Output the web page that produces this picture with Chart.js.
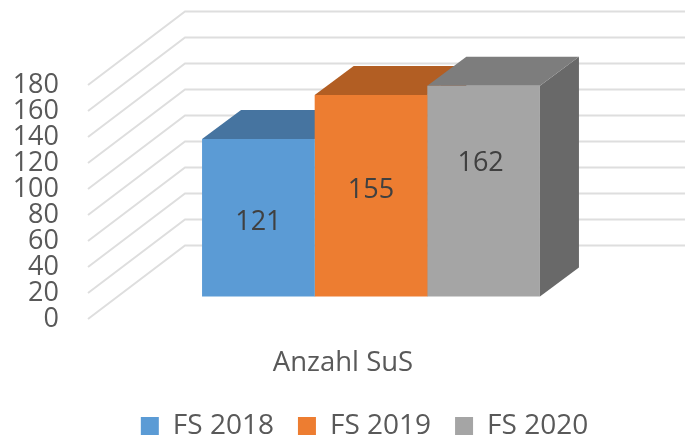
<!DOCTYPE html>
<html lang="de">
<head>
<meta charset="UTF-8">
<title>Anzahl SuS</title>
<script src="https://cdn.jsdelivr.net/npm/chart.js@4.4.4/dist/chart.umd.min.js"></script>
<style>
  html, body { margin: 0; padding: 0; background: #fff; }
  #wrap { width: 685px; height: 439px; }
</style>
</head>
<body>
<div id="wrap"><canvas id="chart" width="685" height="439"></canvas></div>
<script>
// Daten
const categories = ['Anzahl SuS'];
const seriesNames = ['FS 2018', 'FS 2019', 'FS 2020'];
const seriesValues = [[121], [155], [162]];
const yTicks = [0, 20, 40, 60, 80, 100, 120, 140, 160, 180];

// Farben
const frontColors = ['#5B9BD5', '#ED7D31', '#A5A5A5'];
const topColors = ['#4674A0', '#B25E23', '#7D7D7D'];
const sideColors = ['#3C6690', '#9A5020', '#696969'];
const gridColor = '#DEDEDE';
const fontName = '"Open Sans", "Noto Sans", sans-serif';

// 3D-Versatz
const wallDx = 97, wallDy = 73.5; // Seitenwand
const barDx = 39, barDy = 29;     // Saeulentiefe
const labelShift = [[0, 5], [0, -5.5], [-3, -27.5]];  // Datenbeschriftung wie im Original

const depthPlugin = {
  id: 'depth',
  // die Achsenbox reicht bis zum Rand, sonst werden die Zahlen abgeschnitten
  afterLayout(chart) {
    chart.scales.y.left = 0;
  },
  beforeDatasetsDraw(chart) {
    const ctx = chart.ctx;
    const y = chart.scales.y;
    const left = chart.chartArea.left;

    // Wand und Hilfslinien
    ctx.save();
    ctx.strokeStyle = gridColor;
    ctx.lineWidth = 2;
    yTicks.forEach(v => {
      const py = y.getPixelForValue(v);
      ctx.beginPath();
      ctx.moveTo(left, py);
      ctx.lineTo(left + wallDx, py - wallDy);
      ctx.lineTo(chart.width, py - wallDy);
      ctx.stroke();
    });

    // Seiten und Deckel der Saeulen
    seriesNames.forEach((name, i) => {
      const bar = chart.getDatasetMeta(i).data[0];
      const x0 = bar.x - bar.width / 2, x1 = bar.x + bar.width / 2;
      ctx.fillStyle = sideColors[i];
      ctx.beginPath();
      ctx.moveTo(x1, bar.y);
      ctx.lineTo(x1 + barDx, bar.y - barDy);
      ctx.lineTo(x1 + barDx, bar.base - barDy);
      ctx.lineTo(x1, bar.base);
      ctx.closePath();
      ctx.fill();
      ctx.fillStyle = topColors[i];
      ctx.beginPath();
      ctx.moveTo(x0, bar.y);
      ctx.lineTo(x0 + barDx, bar.y - barDy);
      ctx.lineTo(x1 + barDx, bar.y - barDy);
      ctx.lineTo(x1, bar.y);
      ctx.closePath();
      ctx.fill();
    });
    ctx.restore();
  },
  afterDatasetsDraw(chart) {
    const ctx = chart.ctx;
    ctx.save();
    ctx.font = '27px ' + fontName;
    ctx.fillStyle = '#404040';
    ctx.textAlign = 'center';
    ctx.textBaseline = 'middle';
    seriesNames.forEach((name, i) => {
      const bar = chart.getDatasetMeta(i).data[0];
      ctx.fillText(String(seriesValues[i][0]), bar.x + labelShift[i][0], (bar.y + bar.base) / 2 + labelShift[i][1]);
    });
    ctx.restore();
  }
};

new Chart(document.getElementById('chart'), {
  type: 'bar',
  data: {
    labels: categories,
    datasets: seriesNames.map((name, i) => ({
      label: name,
      data: seriesValues[i],
      backgroundColor: frontColors[i],
      borderWidth: 0,
      yAxisID: 'yBars'
    }))
  },
  options: {
    responsive: false,
    animation: false,
    layout: { padding: { top: 85, left: 75, right: 31, bottom: -11 } },
    datasets: { bar: { categoryPercentage: 0.597, barPercentage: 1 } },
    scales: {
      x: {
        afterFit(scale) { scale.height = 69; },
        grid: { display: false },
        border: { display: false },
        ticks: { color: '#595959', font: { family: fontName, size: 27.5 }, labelOffset: -28, padding: 20, maxRotation: 0 }
      },
      y: {
        min: 0,
        max: 180,
        afterFit(scale) { scale.width = 13; },
        grid: { display: false, drawTicks: false },
        border: { display: false },
        afterBuildTicks(scale) { scale.ticks = yTicks.map(v => ({ value: v })); },
        ticks: { color: '#595959', font: { family: fontName, size: 27 }, padding: 29, autoSkip: false }
      },
      // Saeulen stehen vor der Wand: gleiche Skala, um den Bodenversatz verschoben
      yBars: { display: false, min: -17.4, max: 162.6 }
    },
    plugins: {
      tooltip: { enabled: false },
      legend: {
        position: 'bottom',
        labels: { color: '#595959', font: { family: fontName, size: 28 }, boxWidth: 18, boxHeight: 18, padding: 24 }
      }
    }
  },
  plugins: [depthPlugin]
});
</script>
</body>
</html>
